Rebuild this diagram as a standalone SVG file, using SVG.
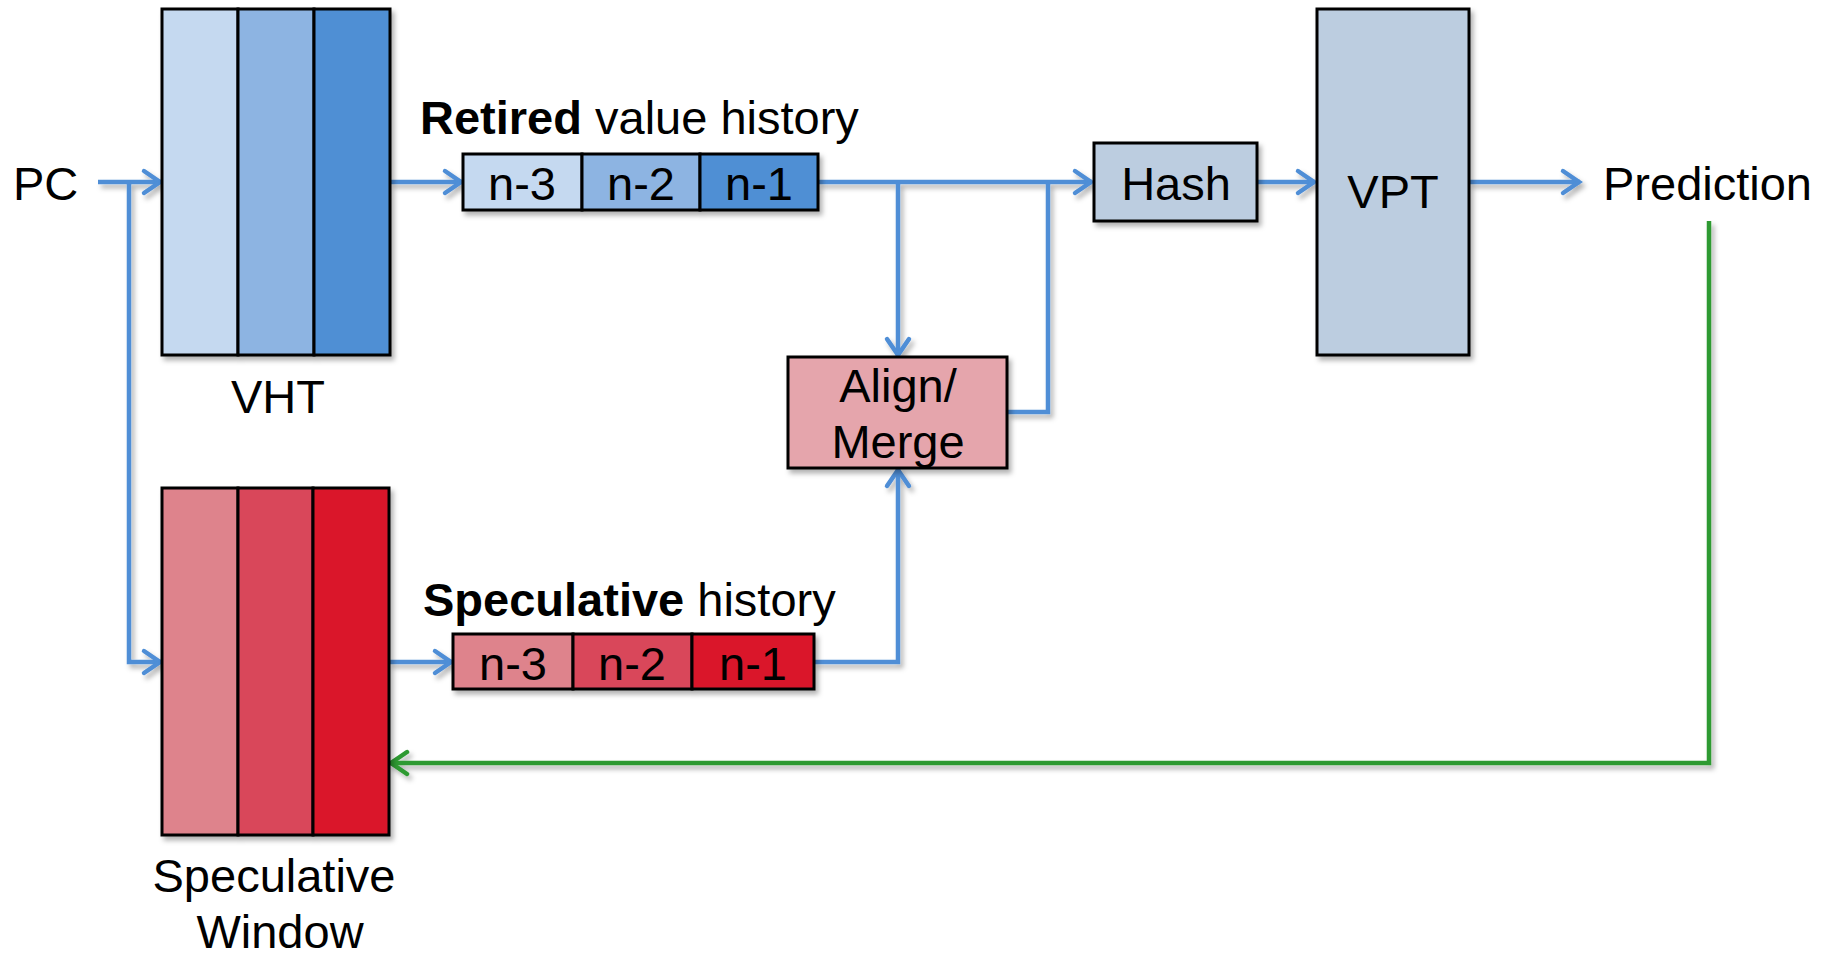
<svg xmlns="http://www.w3.org/2000/svg" width="1828" height="956" viewBox="0 0 1828 956">
<style>
.txt{font-family:"Liberation Sans",Arial,sans-serif;font-size:47px;fill:#000}
.mid{text-anchor:middle}
.b{font-weight:bold}
.box{stroke:#000;stroke-width:3}
.con{fill:none;stroke:#4F8ED6;stroke-width:4.5}
.grn{fill:none;stroke:#2E9A33;stroke-width:4.5}
</style>
<defs>
<filter id="sh" x="-10%" y="-10%" width="130%" height="130%">
<feDropShadow dx="3" dy="4" stdDeviation="2.5" flood-color="#000" flood-opacity="0.3"/>
</filter>
<marker id="ab" markerUnits="userSpaceOnUse" markerWidth="40" markerHeight="40" refX="0" refY="0" orient="auto" overflow="visible">
<path d="M-17,-11 L-1,0 L-17,11" fill="none" stroke="#4F8ED6" stroke-width="4.5" stroke-linecap="round"/>
</marker>
<marker id="ag" markerUnits="userSpaceOnUse" markerWidth="40" markerHeight="40" refX="0" refY="0" orient="auto" overflow="visible">
<path d="M-17,-11 L-1,0 L-17,11" fill="none" stroke="#2E9A33" stroke-width="4.5" stroke-linecap="round"/>
</marker>
</defs>
<rect width="1828" height="956" fill="#fff"/>

<g id="connectors" filter="url(#sh)">
<path class="con" d="M98,182 H161" marker-end="url(#ab)"/>
<path class="con" d="M129,182 V662 H161" marker-end="url(#ab)"/>
<path class="con" d="M390,182 H462" marker-end="url(#ab)"/>
<path class="con" d="M818,182 H1092" marker-end="url(#ab)"/>
<path class="con" d="M898,182 V356" marker-end="url(#ab)"/>
<path class="con" d="M1007,412 H1048 V182"/>
<path class="con" d="M1257,182 H1315" marker-end="url(#ab)"/>
<path class="con" d="M1469,182 H1580" marker-end="url(#ab)"/>
<path class="con" d="M389,662 H452" marker-end="url(#ab)"/>
<path class="con" d="M814,662 H898 V469" marker-end="url(#ab)"/>
<path class="grn" d="M1709,221 V763 H390" marker-end="url(#ag)"/>
</g>

<g id="pc"><text class="txt" x="13" y="200">PC</text></g>

<g id="vht">
<g filter="url(#sh)">
<rect class="box" x="162" y="9" width="76" height="346" fill="#C5D9F0"/>
<rect class="box" x="238" y="9" width="76" height="346" fill="#8DB4E2"/>
<rect class="box" x="314" y="9" width="76" height="346" fill="#4F8FD4"/>
</g>
<text class="txt mid" x="278" y="413">VHT</text>
</g>

<g id="retired-history">
<text class="txt" x="420" y="134"><tspan class="b">Retired</tspan> value history</text>
<g filter="url(#sh)">
<rect class="box" x="463" y="154" width="119" height="56" fill="#C5D9F0"/>
<rect class="box" x="582" y="154" width="118" height="56" fill="#8DB4E2"/>
<rect class="box" x="700" y="154" width="118" height="56" fill="#4F8FD4"/>
</g>
<text class="txt mid" x="522" y="200">n-3</text>
<text class="txt mid" x="641" y="200">n-2</text>
<text class="txt mid" x="759" y="200">n-1</text>
</g>

<g id="hash">
<rect class="box" x="1094" y="143" width="163" height="78" fill="#BCCDE0" filter="url(#sh)"/>
<text class="txt mid" x="1176" y="200">Hash</text>
</g>

<g id="vpt">
<rect class="box" x="1317" y="9" width="152" height="346" fill="#BCCDE0" filter="url(#sh)"/>
<text class="txt mid" x="1393" y="208">VPT</text>
</g>

<g id="prediction"><text class="txt" x="1603" y="200">Prediction</text></g>

<g id="align-merge">
<rect class="box" x="788" y="357" width="219" height="111" fill="#E5A5AC" filter="url(#sh)"/>
<text class="txt mid" x="898" y="402">Align/</text>
<text class="txt mid" x="898" y="458">Merge</text>
</g>

<g id="spec-window">
<g filter="url(#sh)">
<rect class="box" x="162" y="488" width="76" height="347" fill="#DE838C"/>
<rect class="box" x="238" y="488" width="75" height="347" fill="#D9475A"/>
<rect class="box" x="313" y="488" width="76" height="347" fill="#DA142B"/>
</g>
<text class="txt mid" x="274" y="892">Speculative</text>
<text class="txt mid" x="280" y="948">Window</text>
</g>

<g id="spec-history">
<text class="txt" x="423" y="616"><tspan class="b">Speculative</tspan> history</text>
<g filter="url(#sh)">
<rect class="box" x="453" y="634" width="120" height="55" fill="#DE838C"/>
<rect class="box" x="573" y="634" width="119" height="55" fill="#D9475A"/>
<rect class="box" x="692" y="634" width="122" height="55" fill="#DA142B"/>
</g>
<text class="txt mid" x="513" y="680">n-3</text>
<text class="txt mid" x="632" y="680">n-2</text>
<text class="txt mid" x="753" y="680">n-1</text>
</g>
</svg>
